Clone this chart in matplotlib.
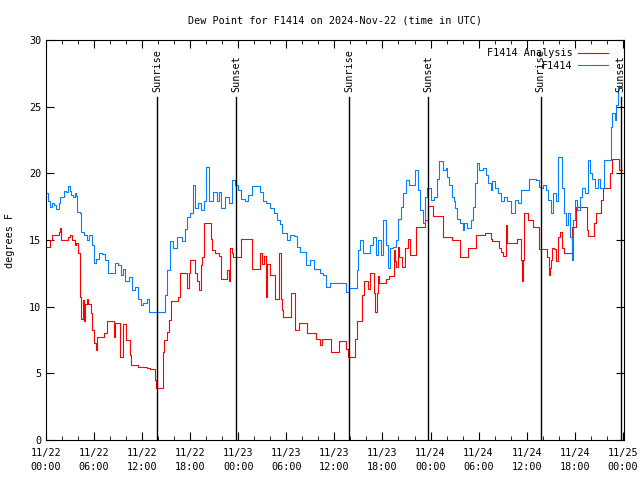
import pandas as pd
import matplotlib
matplotlib.use("Agg")
import matplotlib.pyplot as plt
import matplotlib.dates as mdates

start = pd.Timestamp("2024-11-22 00:00")

# F1414 station (blue) : hours since start, degrees F
obs_hours = [0.0, 0.3, 0.5, 0.8, 1.0, 1.3, 1.6, 1.8, 2.2, 2.5, 2.7, 3.0, 3.1, 3.4, 3.6, 3.8,
             3.9, 4.2, 4.4, 4.8, 5.1, 5.4, 5.7, 6.0, 6.2, 6.6, 7.0, 7.4, 7.8, 8.3, 8.6, 9.0,
             9.3, 9.6, 9.9, 10.3, 10.7, 11.1, 11.5, 11.8, 12.1, 12.6, 12.8, 14.8, 15.1, 15.5,
             15.9, 16.3, 17.0, 17.4, 17.6, 18.0, 18.4, 18.6, 19.0, 19.4, 19.7, 20.0, 20.3, 20.9,
             21.3, 21.6, 21.9, 22.4, 22.8, 23.2, 23.6, 24.0, 24.4, 24.8, 25.2, 25.7, 26.3, 26.7,
             27.1, 27.5, 28.0, 28.4, 28.8, 29.2, 29.5, 30.1, 30.5, 30.9, 31.3, 31.7, 32.4, 33.0,
             33.4, 34.2, 34.6, 35.0, 35.5, 37.4, 37.8, 38.8, 39.0, 39.2, 39.6, 40.5, 40.8, 41.2,
             41.5, 41.8, 42.1, 42.4, 42.7, 42.9, 43.3, 43.7, 43.9, 44.3, 44.6, 44.9, 45.3, 46.1,
             46.4, 46.7, 47.0, 47.3, 47.6, 48.0, 48.4, 48.8, 49.1, 49.6, 49.9, 50.1, 50.3, 50.7,
             50.9, 51.1, 51.3, 51.7, 52.0, 52.2, 52.6, 53.0, 53.3, 53.5, 53.8, 54.0, 54.5, 54.9,
             55.2, 55.5, 55.7, 56.1, 56.4, 56.8, 57.2, 57.5, 58.1, 58.5, 58.9, 59.3, 59.9, 60.3,
             61.2, 61.6, 61.75, 62.1, 62.4, 62.7, 63.0, 63.3, 63.6, 63.9, 64.4, 64.6, 64.9, 65.2,
             65.4, 65.6, 65.8, 66.0, 66.3, 66.6, 66.9, 67.3, 67.7, 67.9, 68.2, 68.5, 68.9, 69.2,
             69.6, 70.5, 70.7, 71.0, 71.2, 71.4, 71.9]
obs_vals = [18.5, 17.9, 17.5, 17.8, 17.6, 17.3, 17.8, 18.25, 18.7, 18.6, 19.05, 18.7, 18.4, 18.2, 18.5, 18.3,
            17.1, 17.0, 15.6, 15.4, 15.0, 15.4, 14.6, 13.25, 13.6, 14.05, 13.95, 13.5, 12.55, 12.5, 13.3, 13.1,
            12.4, 12.8, 11.9, 12.2, 11.25, 11.5, 10.6, 10.1, 10.3, 10.55, 9.6, 10.9, 12.75, 14.9,
            14.4, 15.2, 14.9, 15.8, 16.75, 17.0, 19.1, 17.4, 17.75, 17.25, 17.9, 20.5, 17.9, 18.6,
            17.9, 18.6, 17.4, 18.2, 17.75, 19.5, 19.1, 18.75, 18.1, 17.9, 18.4, 19.05, 19.05, 18.6,
            17.9, 17.8, 17.4, 17.0, 16.5, 16.2, 15.5, 15.0, 15.4, 15.3, 14.5, 14.1, 13.1, 13.5,
            12.8, 12.5, 12.4, 11.5, 11.75, 11.1, 11.4, 12.75, 14.25, 15.0, 14.0, 14.6, 15.25, 13.9,
            15.0, 13.9, 16.5, 14.6, 12.9, 14.4, 14.5, 15.0, 16.6, 17.5, 18.5, 19.5, 19.1, 20.25,
            18.75, 17.25, 16.25, 18.25, 18.9, 18.0, 18.25, 19.6, 20.95, 20.25, 20.4, 19.75, 19.1, 18.25,
            17.9, 17.4, 16.6, 16.25, 15.75, 16.3, 15.9, 16.5, 17.5, 19.25, 20.75, 20.25, 20.4, 19.9,
            19.25, 18.75, 19.4, 18.9, 18.5, 17.9, 18.25, 17.9, 17.0, 18.0, 17.75, 18.75, 18.75, 19.55,
            19.5, 19.0, 18.9, 19.1, 18.75, 18.0, 17.0, 18.5, 17.9, 21.25, 18.9, 17.0, 16.1, 17.0,
            15.25, 13.5, 16.5, 18.0, 17.25, 18.25, 18.9, 18.5, 21.0, 20.0, 19.6, 18.9, 19.6, 18.9,
            21.0, 23.5, 24.5, 24.0, 25.1, 26.5, 26.5]

# F1414 Analysis (red)
ana_hours = [0.0, 0.5, 0.75, 1.6, 1.8, 1.9, 2.7, 3.0, 3.3, 3.6, 3.8, 4.0, 4.2, 4.3, 4.4, 4.6,
             4.8, 4.9, 5.1, 5.3, 5.6, 5.8, 6.0, 6.2, 6.4, 7.2, 7.6, 8.5, 8.6, 9.2, 9.6, 10.0,
             10.5, 10.6, 11.5, 12.6, 13.0, 13.6, 13.7, 14.6, 14.75, 15.1, 15.4, 15.6, 16.5, 16.7,
             17.6, 17.8, 18.0, 18.6, 18.9, 19.1, 19.3, 19.5, 19.7, 20.6, 20.7, 21.1, 21.6, 21.8,
             22.6, 22.8, 23.0, 23.2, 23.4, 24.4, 25.7, 26.7, 27.0, 27.2, 27.4, 27.6, 27.9, 28.6,
             29.1, 29.3, 29.4, 29.6, 30.6, 31.1, 31.6, 32.6, 33.7, 34.2, 34.5, 35.6, 36.6, 37.4,
             37.7, 38.6, 38.8, 39.5, 39.7, 40.2, 40.5, 41.0, 41.1, 41.3, 41.4, 41.6, 42.4, 42.8,
             43.4, 43.6, 43.7, 43.9, 44.1, 44.4, 44.8, 45.2, 45.4, 46.2, 47.3, 47.7, 48.3, 49.6,
             50.7, 51.7, 52.7, 53.7, 54.8, 55.5, 55.7, 56.5, 56.75, 57.0, 57.4, 57.6, 58.8, 59.3,
             59.4, 59.5, 59.7, 60.2, 60.8, 61.6, 62.6, 62.75, 62.9, 63.0, 63.2, 63.4, 63.7, 63.9,
             64.1, 64.4, 64.6, 65.6, 66.2, 67.5, 67.6, 68.4, 68.6, 69.3, 69.5, 70.4, 70.6, 71.5,
             71.9]
ana_vals = [14.5, 15.0, 15.4, 15.6, 15.9, 15.0, 15.2, 15.4, 15.0, 14.6, 14.8, 14.0, 12.5, 10.75, 9.1, 10.5,
            8.9, 10.2, 10.6, 10.2, 9.5, 8.25, 7.3, 6.75, 7.7, 8.0, 8.9, 7.75, 8.75, 6.25, 8.7, 7.5,
            6.4, 5.6, 5.5, 5.4, 5.3, 4.5, 3.9, 6.6, 7.5, 8.1, 9.0, 10.4, 10.75, 12.5,
            11.4, 12.5, 13.5, 12.5, 11.9, 11.25, 13.1, 13.75, 16.25, 15.1, 14.25, 14.0, 13.8, 12.1,
            12.75, 11.9, 14.4, 14.0, 13.75, 15.1, 12.8, 14.0, 13.2, 13.8, 10.75, 13.2, 12.4, 10.6,
            14.0, 10.6, 9.75, 9.25, 11.0, 8.25, 8.75, 8.0, 7.6, 7.1, 7.6, 6.6, 7.4, 6.8,
            6.25, 7.6, 8.95, 10.9, 11.9, 11.3, 12.5, 11.0, 9.6, 11.0, 12.3, 11.8, 12.1, 12.3,
            14.25, 13.4, 13.0, 14.5, 13.75, 13.0, 14.4, 15.1, 13.9, 16.0, 16.5, 17.55, 16.8, 15.25,
            15.0, 13.7, 14.4, 15.4, 15.5, 15.1, 14.9, 14.4, 14.1, 13.8, 16.1, 14.8, 15.1, 13.5,
            11.9, 13.5, 17.0, 16.5, 16.0, 14.3, 13.75, 12.4, 12.9, 13.5, 14.4, 14.3, 13.4, 15.25,
            15.6, 14.4, 14.0, 16.0, 17.5, 15.75, 15.3, 16.25, 17.0, 18.0, 18.9, 20.0, 21.05, 20.25,
            20.25]

sun_labels = ["Sunrise", "Sunset", "Sunrise", "Sunset", "Sunrise", "Sunset"]
sun_hours = [13.87, 23.75, 37.88, 47.74, 61.75, 71.73]

obs_t = start + pd.to_timedelta(obs_hours, unit="h")
ana_t = start + pd.to_timedelta(ana_hours, unit="h")
sun_t = start + pd.to_timedelta(sun_hours, unit="h")

mono = "DejaVu Sans Mono"
fs = 7.3

fig = plt.figure(figsize=(6.4, 4.8), dpi=100)
ax = fig.add_axes([46 / 640, 40 / 480, 578 / 640, 400 / 480])

ax.plot(ana_t, ana_vals, color="#ff0000", lw=0.8, drawstyle="steps-post", label="F1414 Analysis")
ax.plot(obs_t, obs_vals, color="#0080ff", lw=0.8, drawstyle="steps-post", label="F1414")

for t, lab in zip(sun_t, sun_labels):
    ax.plot([t, t], [0, 25.7], color="black", lw=1.0)
    ax.text(t, 26.1, lab, rotation=90, ha="center", va="bottom", fontsize=fs, family=mono)

ax.set_xlim(start, start + pd.Timedelta(hours=72.15))
ax.set_ylim(0, 30)
ax.set_yticks(range(0, 31, 5))
ax.xaxis.set_major_locator(mdates.HourLocator(byhour=[0, 6, 12, 18]))
ax.xaxis.set_minor_locator(mdates.HourLocator(byhour=range(0, 24, 2)))
ax.xaxis.set_major_formatter(mdates.DateFormatter("%m/%d\n%H:%M"))
ax.tick_params(which="both", direction="in", top=True, right=True, labelsize=fs)
ax.tick_params(which="major", length=6)
ax.tick_params(which="minor", length=3)
ax.tick_params(axis="x", pad=6)
for lab in ax.get_xticklabels() + ax.get_yticklabels():
    lab.set_family(mono)
for lab in ax.get_xticklabels():
    lab.set_linespacing(1.5)

ax.set_title("Dew Point for F1414 on 2024-Nov-22 (time in UTC)", fontsize=fs, family=mono, pad=12)
ax.set_ylabel("degrees F", fontsize=fs, family=mono, labelpad=10)

ax.legend(loc="upper right", bbox_to_anchor=(0.98, 0.99), frameon=False, markerfirst=False,
          handlelength=3.0, prop={"family": mono, "size": fs}, borderaxespad=0,
          labelspacing=0.25, handletextpad=0.5)

plt.savefig("out.png", dpi=100)
